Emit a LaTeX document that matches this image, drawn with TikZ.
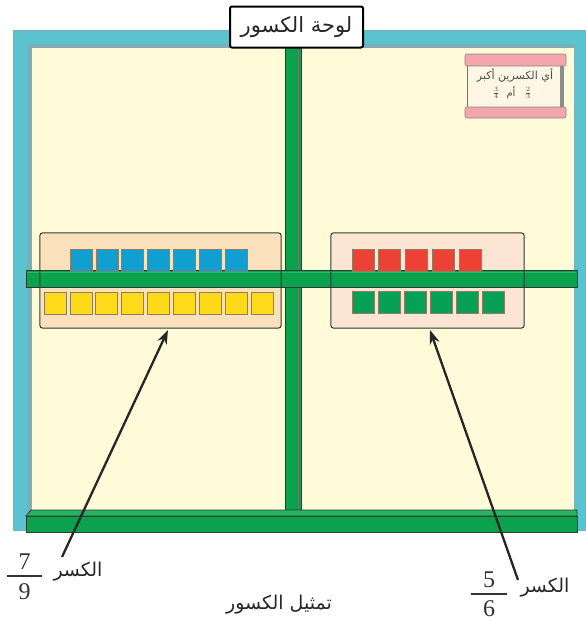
\documentclass[tikz,border=0pt]{standalone}
\usepackage{fontspec}
\setmainfont{Liberation Serif}
\newfontfamily\arabicfont[Script=Arabic]{DejaVu Sans}
\TeXXeTstate=1
\usetikzlibrary{arrows.meta}
\definecolor{tealA}{HTML}{5BC3CF}
\definecolor{tealB}{HTML}{7AAFB5}
\definecolor{creamA}{HTML}{FFFAD8}
\definecolor{greenA}{HTML}{0BA24E}
\definecolor{greenB}{HTML}{2DB864}
\definecolor{edgeA}{HTML}{2F3A35}
\definecolor{peachL}{HTML}{FBE0BC}
\definecolor{peachR}{HTML}{FCE6D3}
\definecolor{blueA}{HTML}{109FD0}
\definecolor{yellowA}{HTML}{FFDA1A}
\definecolor{redA}{HTML}{EE4136}
\definecolor{greenC}{HTML}{06A057}
\definecolor{pinkA}{HTML}{F4A6AC}
\definecolor{scrollA}{HTML}{FFF6E6}
\definecolor{sqedge}{HTML}{8C7E5E}
\begin{document}
\begin{tikzpicture}[x=1pt,y=-1pt,
  sq/.style={minimum width=22pt,minimum height=22pt,inner sep=0pt,draw=sqedge,line width=0.8pt},
  boxl/.style={minimum width=241pt,minimum height=95pt,inner sep=0pt,rounded corners=3pt},
  bar/.style={fill=greenA,draw=edgeA,line width=0.8pt},
  ar/.style={font=\arabicfont},
  dig/.style={font=\fontsize{24}{24}\selectfont,inner sep=0pt,text=black!80},
  arrowline/.style={line width=2.3pt,black!85,-{Stealth[length=14pt,width=10pt]}}]
\useasboundingbox (0,0) rectangle (586,621);
% frame
\draw[fill=tealA,draw=tealB,line width=0.8pt] (13,30) rectangle (588,530);
\draw[fill=tealB,draw=none] (27,44) rectangle (574,515);
\draw[fill=creamA,draw=tealB,line width=0.6pt] (31,47) rectangle (574,515);
% scroll
\draw[fill=scrollA,draw=edgeA!70,line width=0.6pt] (467,62) rectangle (563,110);
\draw[fill=black!45,draw=none] (560,62) rectangle (564,110);
\draw[fill=pinkA,draw=edgeA!60,line width=0.6pt,rounded corners=2pt] (465,54) rectangle (566,66);
\draw[fill=pinkA,draw=edgeA!60,line width=0.6pt,rounded corners=2pt] (465,107) rectangle (566,118);
\node[ar,font=\arabicfont\fontsize{11}{12}\selectfont,text=black!70] (q1) at (515,75) {\beginR أي الكسرين أكبر\endR};
\node[font=\fontsize{10}{10}\selectfont,text=black!70,inner sep=0pt] (q2) at (496,93) {$\frac{3}{4}$};
\node[ar,font=\arabicfont\fontsize{10}{11}\selectfont,text=black!70] (q3) at (511,93) {\beginR أم\endR};
\node[font=\fontsize{10}{10}\selectfont,text=black!70,inner sep=0pt] (q4) at (528,93) {$\frac{2}{3}$};
% vertical bar
\draw[bar] (285,47) rectangle (301,515);
\draw[edgeA!70,line width=0.6pt] (298,47) -- (298,515);
% boxes (fill)
\node[boxl,fill=peachL] (lbox) at (160.5,280.5) {};
\node[boxl,fill=peachR,minimum width=193pt] (rbox) at (427.5,280.5) {};
% horizontal bar
\draw[bar] (26,270) rectangle (577,287);
\draw[greenB,line width=1pt] (27,272) -- (576,272);
% box outlines
\draw[edgeA,line width=1pt,rounded corners=3pt] (lbox.north west) rectangle (lbox.south east);
\draw[edgeA,line width=1pt,rounded corners=3pt] (rbox.north west) rectangle (rbox.south east);
% squares
\foreach \i in {0,...,6} \node[sq,fill=blueA] (b\i) at ({81+25.9*\i},260) {};
\foreach \i in {0,...,8} \node[sq,fill=yellowA] (y\i) at ({55+25.9*\i},303.5) {};
\foreach \i in {0,...,4} \node[sq,fill=redA] (r\i) at ({363+26.75*\i},260.5) {};
\foreach \i in {0,...,5} \node[sq,fill=greenC] (g\i) at ({363+26*\i},302) {};
% bottom bar
\draw[bar] (26,516) rectangle (577,532);
\draw[bar,fill=greenB!80!greenA] (26,516) -- (31,510) -- (577,510) -- (577,516) -- cycle;
% sign
\node[draw=black,line width=2pt,fill=white,rounded corners=2pt,minimum width=133pt,minimum height=41pt,inner sep=0pt,font=\arabicfont\fontsize{21}{24}\selectfont,text=black!85] (sign) at (296.5,27) {\beginR لوحة الكسور\endR};
% labels
\node[ar,font=\arabicfont\fontsize{19}{21}\selectfont,text=black!85] (lab1) at (78,572) {\beginR الكسر\endR};
\node[ar,font=\arabicfont\fontsize{19}{21}\selectfont,text=black!85] (lab2) at (545,588) {\beginR الكسر\endR};
\node[dig] (n7) at (24.5,562) {7};
\node[dig] (d9) at (24.5,592) {9};
\draw[black!80,line width=1.2pt] (7,576) -- (42,576);
\node[dig] (n5) at (489,580) {5};
\node[dig] (d6) at (489,609) {6};
\draw[black!80,line width=1.2pt] (471,594) -- (507,594);
\node[ar,font=\arabicfont\fontsize{19}{21}\selectfont,text=black!85] (title) at (279,605) {\beginR تمثيل الكسور\endR};
% arrows
\coordinate (a1) at (62,557);
\coordinate (t1) at (168,330);
\coordinate (a2) at (518,580);
\coordinate (t2) at (430,330);
\draw[arrowline] (a1) -- (t1);
\draw[arrowline] (a2) -- (t2);
\end{tikzpicture}
\end{document}
